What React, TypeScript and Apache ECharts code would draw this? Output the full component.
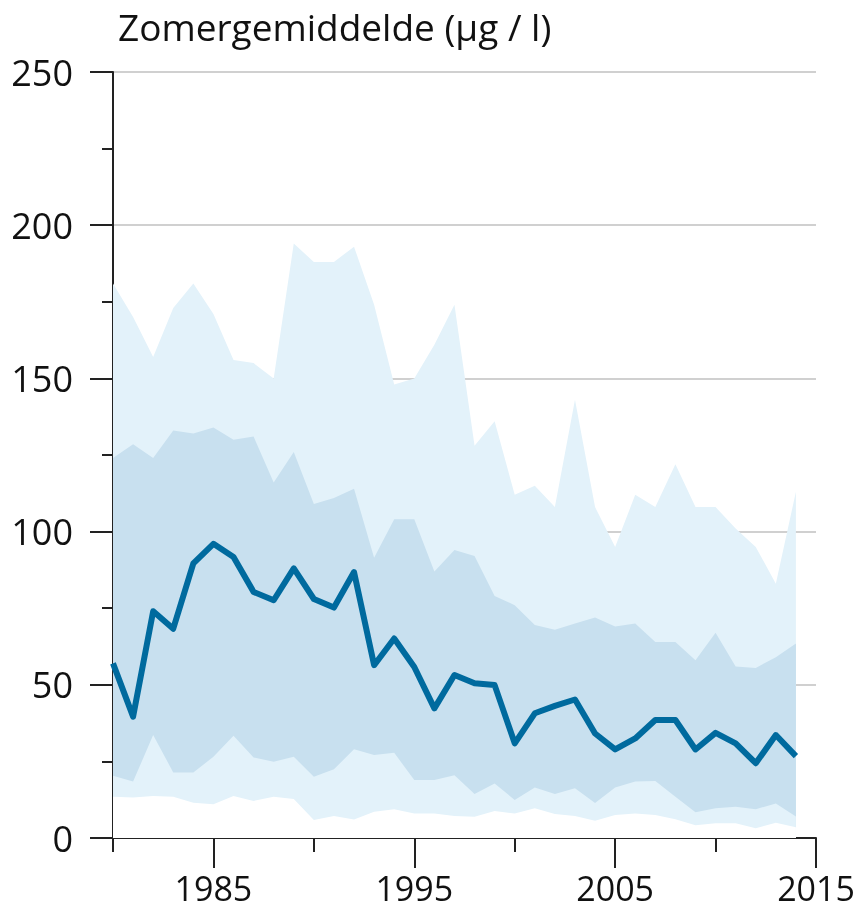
import React, { useEffect, useRef } from "react";
import * as echarts from "echarts";

const years: string[] = [];
for (let y = 1980; y <= 2015; y++) years.push(String(y));

const p95 = [181, 170, 157, 173, 181, 171, 156, 155, 150, 194, 188, 188, 193, 174, 148, 150, 161, 174, 128, 136, 112, 115, 108, 143, 108, 95, 112, 108, 122, 108, 108, 101, 95, 83, 113];
const p75 = [124, 128.5, 124, 133, 132, 134, 130, 131, 116, 126, 109, 111, 114, 91.5, 104, 104, 87, 94, 92, 79, 76, 69.5, 68, 70, 72, 69, 70, 64, 64, 58, 67, 56, 55.5, 59, 63.5];
const median = [57, 39.6, 74, 68.3, 89.6, 96, 91.7, 80.3, 77.6, 88, 78, 75.2, 86.8, 56.4, 65.1, 55.8, 42.3, 53.2, 50.5, 49.9, 30.9, 40.7, 43.1, 45.2, 34.1, 28.9, 32.5, 38.5, 38.5, 28.9, 34.3, 30.9, 24.4, 33.6, 26.7];
const p25 = [20.3, 18.4, 33.6, 21.4, 21.4, 26.5, 33.4, 26.3, 24.9, 26.5, 20, 22.4, 29, 27.1, 27.8, 18.9, 18.9, 20.5, 14.4, 17.8, 12.4, 16.5, 14.4, 16.2, 11.4, 16.5, 18.4, 18.6, 13.5, 8.4, 9.7, 10.2, 9.4, 11.3, 7];
const p5 = [13.5, 13.2, 13.7, 13.5, 11.5, 11, 13.7, 12.1, 13.5, 12.7, 5.9, 7.2, 6, 8.6, 9.4, 8, 8, 7.2, 6.9, 8.8, 8, 9.7, 7.8, 7.2, 5.6, 7.5, 8, 7.5, 6.1, 4.2, 4.8, 4.8, 3.2, 5, 3.5];

const titleText = "Zomergemiddelde (µg / l)";
const labeledYears = ["1985", "1995", "2005", "2015"];

const OUTER = "#e3f2fa";
const INNER = "#c8e0ef";
const LINE = "#006a9e";
const FONT = "Open Sans";

export default function App() {
  const ref = useRef<HTMLDivElement>(null);
  useEffect(() => {
    if (!ref.current) return;
    const chart = echarts.init(ref.current, null, { renderer: "svg" });
    const area = (name: string, data: number[], color: string) => ({
      name,
      type: "line",
      data,
      symbol: "none",
      lineStyle: { width: 0 },
      areaStyle: { color, opacity: 1 },
      silent: true,
    });
    chart.setOption({
      animation: false,
      title: {
        text: titleText,
        left: 113,
        top: 3,
        textStyle: { fontFamily: FONT, fontSize: 37, fontWeight: "normal", color: "#111" },
      },
      grid: { left: 113, right: 41, top: 72, bottom: 80, containLabel: false, outerBoundsMode: "none" },
      xAxis: [
        {
          type: "category",
          data: years,
          boundaryGap: false,
          axisLine: { lineStyle: { color: "#222", width: 2 } },
          axisTick: {
            length: 30,
            lineStyle: { color: "#222", width: 2 },
            interval: (i: number, v: string) => labeledYears.includes(v),
          },
          axisLabel: {
            interval: (i: number, v: string) => labeledYears.includes(v),
            margin: 33,
            fontFamily: FONT,
            fontSize: 34,
            color: "#111",
          },
          splitLine: { show: false },
        },
        {
          type: "category",
          data: years,
          boundaryGap: false,
          position: "bottom",
          axisLine: { show: false },
          axisTick: {
            length: 14,
            lineStyle: { color: "#222", width: 2 },
            interval: (i: number, v: string) => Number(v) % 10 === 0,
          },
          axisLabel: { show: false },
          splitLine: { show: false },
        },
      ],
      yAxis: {
        type: "value",
        min: 0,
        max: 250,
        interval: 50,
        axisLine: { show: true, lineStyle: { color: "#222", width: 2 } },
        axisTick: { show: true, length: 23, lineStyle: { color: "#222", width: 2 } },
        minorTick: { show: true, splitNumber: 2, length: 11, lineStyle: { color: "#222", width: 2 } },
        axisLabel: { margin: 40, fontFamily: FONT, fontSize: 36, color: "#111" },
        splitLine: { show: true, lineStyle: { color: "#d0d0d0", width: 2 } },
        minorSplitLine: { show: false },
      },
      series: [
        area("p95", p95, OUTER),
        area("p75", p75, INNER),
        area("p25", p25, OUTER),
        area("p5", p5, "#ffffff"),
        {
          name: "mediaan",
          type: "line",
          data: median,
          symbol: "none",
          lineStyle: { color: LINE, width: 6, join: "round" },
          z: 5,
        },
      ],
    });
    return () => chart.dispose();
  }, []);
  return (
    <div
      ref={ref}
      style={{ position: "fixed", left: 0, top: 0, width: 857, height: 918, overflow: "visible" }}
    />
  );
}
